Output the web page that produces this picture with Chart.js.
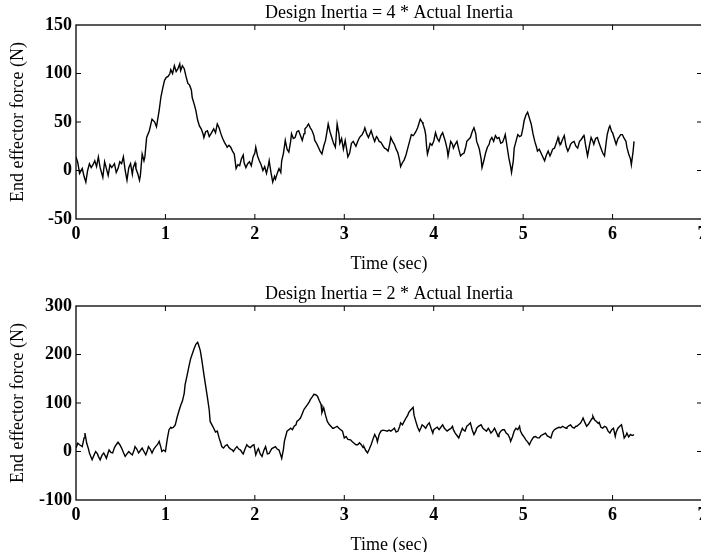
<!DOCTYPE html>
<html>
<head>
<meta charset="utf-8">
<script src="https://cdn.jsdelivr.net/npm/chart.js@4"></script>
<style>
    html, body { margin: 0; padding: 0; background: #fff; overflow: hidden; width: 701px; height: 552px; }
    .panel { position: absolute; left: 0; width: 730px; height: 275px; }
    #top-panel { top: 0; }
    #bottom-panel { top: 281px; }
</style>
</head>
<body>
<div class="panel" id="top-panel"><canvas id="top-chart"></canvas></div>
<div class="panel" id="bottom-panel"><canvas id="bottom-chart"></canvas></div>
<script>
// Design Inertia = 4 * Actual Inertia
const topTime = [0.00,0.02,0.04,0.07,0.09,0.11,0.13,0.15,0.17,0.19,0.21,0.23,0.25,0.27,0.30,0.32,0.34,0.36,0.38,0.40,0.43,0.45,0.47,0.49,0.51,0.53,0.55,0.57,0.59,0.61,0.63,0.64,0.66,0.67,0.69,0.71,0.72,0.74,0.76,0.77,0.79,0.82,0.85,0.88,0.90,0.93,0.95,0.97,0.99,1.01,1.03,1.05,1.06,1.08,1.10,1.12,1.14,1.16,1.17,1.19,1.21,1.23,1.25,1.27,1.29,1.30,1.32,1.34,1.36,1.38,1.40,1.42,1.43,1.45,1.47,1.49,1.51,1.54,1.56,1.58,1.60,1.62,1.64,1.66,1.68,1.69,1.71,1.73,1.75,1.77,1.79,1.81,1.83,1.85,1.87,1.88,1.90,1.92,1.94,1.96,1.98,2.00,2.01,2.03,2.05,2.07,2.09,2.11,2.13,2.15,2.16,2.18,2.20,2.22,2.23,2.25,2.27,2.29,2.30,2.32,2.34,2.36,2.38,2.40,2.41,2.43,2.45,2.47,2.49,2.51,2.53,2.55,2.56,2.58,2.60,2.62,2.64,2.66,2.67,2.69,2.71,2.73,2.75,2.77,2.79,2.81,2.82,2.84,2.86,2.88,2.90,2.92,2.94,2.95,2.97,2.99,3.01,3.03,3.04,3.06,3.08,3.10,3.13,3.15,3.17,3.19,3.20,3.22,3.23,3.25,3.27,3.30,3.32,3.34,3.36,3.37,3.39,3.41,3.43,3.45,3.47,3.49,3.51,3.52,3.54,3.56,3.58,3.60,3.62,3.63,3.65,3.67,3.69,3.71,3.73,3.75,3.77,3.78,3.80,3.82,3.84,3.85,3.87,3.88,3.90,3.91,3.92,3.93,3.95,3.96,3.98,4.00,4.02,4.04,4.06,4.08,4.10,4.12,4.13,4.15,4.16,4.18,4.19,4.21,4.22,4.24,4.26,4.28,4.30,4.32,4.34,4.36,4.37,4.39,4.41,4.43,4.45,4.47,4.48,4.50,4.51,4.53,4.54,4.56,4.58,4.60,4.62,4.63,4.65,4.67,4.69,4.71,4.73,4.75,4.77,4.79,4.80,4.82,4.84,4.86,4.87,4.89,4.90,4.92,4.94,4.96,4.98,5.00,5.01,5.03,5.05,5.07,5.09,5.11,5.13,5.15,5.16,5.18,5.20,5.22,5.24,5.26,5.28,5.30,5.31,5.33,5.35,5.37,5.39,5.40,5.42,5.44,5.46,5.48,5.50,5.52,5.53,5.55,5.57,5.59,5.61,5.63,5.65,5.67,5.68,5.70,5.72,5.74,5.76,5.78,5.79,5.81,5.83,5.85,5.87,5.89,5.91,5.93,5.94,5.96,5.97,5.99,6.00,6.02,6.04,6.06,6.07,6.09,6.11,6.13,6.15,6.16,6.18,6.20,6.21,6.23,6.24];
const topForce = [14,8,-3,2,-6,-12,0,7,3,6,10,4,14,3,-7,9,2,-5,6,3,7,-2,2,9,7,14,0,-10,3,7,-4,3,8,2,-3,-10,-5,17,10,14,34,41,53,50,45,62,76,85,93,96,97,100,104,100,108,102,105,110,103,108,105,97,90,88,83,75,69,62,52,46,43,38,34,40,41,35,38,43,39,48,44,38,33,29,26,24,26,24,20,17,2,6,5,12,16,8,3,7,9,5,14,18,24,15,10,6,0,4,-3,5,10,-2,-12,-6,-9,-3,2,-2,10,18,31,22,19,30,38,33,34,40,41,36,31,38,43,45,48,44,41,36,31,28,24,20,17,25,31,42,48,40,34,28,24,48,38,28,33,22,31,20,14,18,28,30,25,30,34,36,37,41,44,38,34,41,35,30,35,34,30,29,26,23,22,20,28,34,30,27,22,18,10,4,8,11,16,23,30,37,36,37,40,44,50,53,50,48,42,37,25,17,24,28,26,30,39,33,30,36,39,33,30,22,15,25,30,27,23,27,30,22,15,17,18,25,30,32,34,40,44,38,30,25,22,12,3,10,18,24,27,31,34,30,36,33,34,28,29,34,37,25,13,4,-2,10,23,30,37,35,36,45,51,57,60,54,48,38,30,24,20,22,18,14,10,16,20,15,17,22,23,28,34,30,27,32,36,25,20,24,27,29,30,25,23,30,32,35,37,25,15,25,34,30,27,33,34,28,23,18,15,30,37,44,46,40,39,33,27,33,34,37,37,33,30,24,17,12,6,20,30];

// Design Inertia = 2 * Actual Inertia
const bottomTime = [0.00,0.02,0.04,0.07,0.09,0.10,0.12,0.14,0.15,0.18,0.20,0.22,0.24,0.25,0.27,0.29,0.31,0.33,0.34,0.36,0.37,0.39,0.41,0.43,0.45,0.47,0.49,0.51,0.53,0.55,0.57,0.59,0.61,0.63,0.65,0.66,0.68,0.70,0.72,0.74,0.76,0.78,0.80,0.81,0.83,0.85,0.87,0.89,0.91,0.93,0.95,0.96,0.98,1.00,1.02,1.04,1.06,1.07,1.09,1.11,1.13,1.15,1.17,1.19,1.21,1.22,1.24,1.26,1.28,1.30,1.32,1.34,1.36,1.37,1.39,1.41,1.43,1.45,1.47,1.49,1.50,1.52,1.54,1.56,1.58,1.60,1.62,1.63,1.65,1.67,1.69,1.71,1.73,1.75,1.76,1.78,1.80,1.82,1.84,1.86,1.87,1.89,1.91,1.93,1.95,1.97,1.99,2.01,2.03,2.04,2.06,2.08,2.10,2.12,2.14,2.16,2.18,2.19,2.21,2.23,2.25,2.27,2.29,2.30,2.32,2.33,2.35,2.36,2.38,2.40,2.42,2.44,2.46,2.47,2.49,2.51,2.53,2.55,2.57,2.59,2.61,2.62,2.64,2.66,2.68,2.70,2.72,2.74,2.75,2.77,2.79,2.81,2.83,2.85,2.87,2.88,2.90,2.92,2.94,2.96,2.98,3.00,3.02,3.04,3.07,3.09,3.11,3.13,3.15,3.17,3.19,3.21,3.22,3.24,3.26,3.28,3.30,3.32,3.34,3.36,3.37,3.39,3.41,3.43,3.46,3.48,3.50,3.52,3.54,3.56,3.58,3.60,3.62,3.63,3.65,3.67,3.69,3.71,3.72,3.74,3.77,3.78,3.80,3.82,3.84,3.86,3.87,3.89,3.91,3.93,3.95,3.97,3.99,4.00,4.02,4.04,4.06,4.08,4.10,4.12,4.13,4.15,4.17,4.19,4.21,4.22,4.24,4.26,4.28,4.30,4.32,4.33,4.35,4.37,4.39,4.41,4.43,4.45,4.47,4.48,4.50,4.53,4.55,4.57,4.59,4.61,4.62,4.64,4.66,4.68,4.70,4.72,4.73,4.75,4.77,4.79,4.81,4.83,4.85,4.86,4.88,4.90,4.92,4.94,4.96,4.97,4.99,5.01,5.03,5.05,5.07,5.09,5.11,5.12,5.14,5.16,5.18,5.20,5.22,5.24,5.25,5.27,5.29,5.31,5.33,5.35,5.36,5.38,5.40,5.42,5.44,5.46,5.48,5.49,5.51,5.53,5.55,5.57,5.59,5.60,5.62,5.64,5.66,5.67,5.69,5.71,5.73,5.75,5.77,5.78,5.80,5.82,5.84,5.85,5.87,5.89,5.91,5.93,5.95,5.97,5.99,6.01,6.03,6.04,6.06,6.08,6.10,6.12,6.13,6.15,6.16,6.18,6.20,6.22,6.24];
const bottomForce = [7,17,14,10,28,38,17,5,-3,-17,-8,0,-5,-10,-17,-8,-3,-10,-14,-2,3,-2,-3,8,14,19,14,7,-2,-10,-5,0,-4,-7,3,10,5,-3,2,7,0,-7,3,10,5,-3,5,10,14,21,8,0,3,0,25,45,50,48,50,55,70,83,95,104,120,138,155,173,190,201,212,221,225,220,208,185,159,135,111,85,62,55,48,40,42,28,17,10,7,12,14,8,5,3,0,6,10,5,3,-3,-5,5,14,10,8,12,14,-7,3,6,-5,-10,2,10,-5,-4,3,6,8,10,5,3,-8,-14,5,21,35,42,45,48,45,52,55,62,65,69,78,87,92,97,103,107,112,118,117,114,105,97,80,90,75,62,56,52,48,48,50,52,48,45,42,28,31,25,24,20,17,14,14,18,14,8,10,2,-3,5,14,25,35,28,20,35,42,44,43,42,44,42,45,48,40,42,52,59,55,62,69,75,80,85,91,75,62,50,42,50,55,52,48,55,59,48,38,45,48,50,45,50,55,48,46,42,45,47,52,45,38,33,28,38,48,45,42,52,55,59,45,35,42,48,52,55,48,45,42,48,45,38,42,48,40,31,36,42,45,45,38,35,28,21,30,42,48,45,52,42,35,30,24,20,14,22,28,30,31,28,28,33,35,37,38,32,30,28,40,45,46,48,50,49,52,50,48,50,53,55,50,48,52,52,55,58,65,69,60,52,56,62,68,73,65,62,58,60,50,48,52,50,42,38,45,48,31,40,48,52,55,38,28,33,38,30,35,33,35];

const FONT = 'Liberation Serif';

// MATLAB-style box with inward tick marks on all four sides
const boxTicks = {
    id: 'boxTicks',
    afterDraw(chart) {
        const { ctx, chartArea: a, scales } = chart;
        const len = 5;
        ctx.save();
        ctx.strokeStyle = '#000';
        ctx.lineWidth = 1.3;
        ctx.strokeRect(a.left, a.top, a.right - a.left, a.bottom - a.top);
        ctx.lineWidth = 1;
        ctx.beginPath();
        scales.x.ticks.forEach(t => {
            const px = scales.x.getPixelForValue(t.value);
            if (px <= a.left + 1 || px >= a.right - 1) return;
            ctx.moveTo(px, a.bottom); ctx.lineTo(px, a.bottom - len);
            ctx.moveTo(px, a.top); ctx.lineTo(px, a.top + len);
        });
        scales.y.ticks.forEach(t => {
            const py = scales.y.getPixelForValue(t.value);
            if (py <= a.top + 1 || py >= a.bottom - 1) return;
            ctx.moveTo(a.left, py); ctx.lineTo(a.left + len, py);
            ctx.moveTo(a.right, py); ctx.lineTo(a.right - len, py);
        });
        ctx.stroke();
        ctx.restore();
    }
};

function makeChart(canvasId, title, time, force, yMin, yMax, yStep) {
    const points = time.map((t, i) => ({ x: t, y: force[i] }));
    return new Chart(document.getElementById(canvasId), {
        type: 'line',
        data: {
            datasets: [{
                data: points,
                borderColor: '#000',
                borderWidth: 1.4,
                pointRadius: 0,
                tension: 0,
                fill: false
            }]
        },
        options: {
            responsive: true,
            maintainAspectRatio: false,
            animation: false,
            layout: { padding: { left: 0, right: 28, top: 0, bottom: 0 } },
            plugins: {
                legend: { display: false },
                tooltip: { enabled: false },
                title: {
                    display: true,
                    text: title,
                    fullSize: false,
                    color: '#000',
                    font: { family: FONT, size: 18, weight: 'normal', lineHeight: 1.2 },
                    padding: { top: 2, bottom: 1.4 }
                }
            },
            scales: {
                x: {
                    type: 'linear',
                    min: 0,
                    max: 7,
                    afterFit: s => { s.height = 56; },
                    grid: { display: false, drawTicks: false },
                    border: { display: false },
                    ticks: {
                        stepSize: 1,
                        color: '#000',
                        padding: 5,
                        maxRotation: 0,
                        font: { family: FONT, size: 18, weight: 'bold' }
                    },
                    title: {
                        display: true,
                        text: 'Time (sec)',
                        color: '#000',
                        font: { family: FONT, size: 18 },
                        padding: { top: 2, bottom: 0 }
                    }
                },
                y: {
                    min: yMin,
                    max: yMax,
                    afterFit: s => { s.width = 76; },
                    grid: { display: false, drawTicks: false },
                    border: { display: false },
                    ticks: {
                        stepSize: yStep,
                        color: '#000',
                        padding: 4,
                        font: { family: FONT, size: 18, weight: 'bold' }
                    },
                    title: {
                        display: true,
                        text: 'End effector force (N)',
                        color: '#000',
                        font: { family: FONT, size: 18 },
                        padding: { top: 7, bottom: 0 }
                    }
                }
            }
        },
        plugins: [boxTicks]
    });
}

makeChart('top-chart', 'Design Inertia = 4 * Actual Inertia', topTime, topForce, -50, 150, 50);
makeChart('bottom-chart', 'Design Inertia = 2 * Actual Inertia', bottomTime, bottomForce, -100, 300, 100);
</script>
</body>
</html>
